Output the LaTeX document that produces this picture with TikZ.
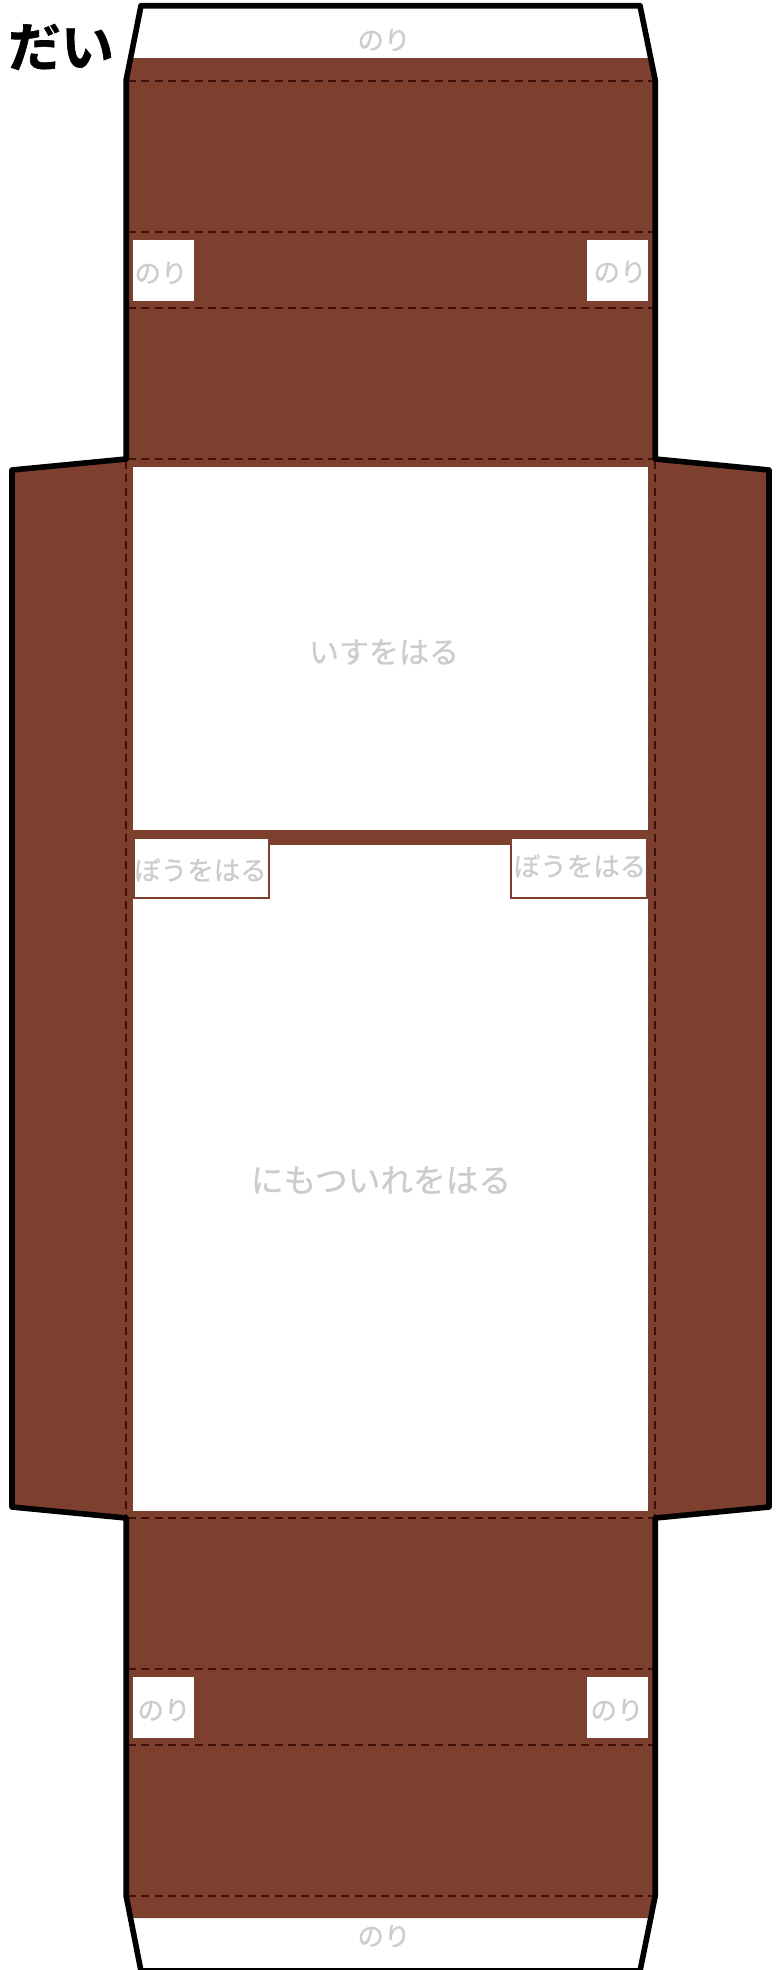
\documentclass[tikz,border=0pt]{standalone}
\usepackage{fontspec}
\newfontfamily\jpfont[FakeBold=0.7]{Noto Sans CJK JP}
\newfontfamily\jpbold[FakeBold=1.2]{Noto Sans CJK JP Bold}
\definecolor{wood}{HTML}{7D3F2E}
\definecolor{fold}{HTML}{40100A}
\definecolor{hint}{HTML}{CCCCCC}
\tikzset{
  woodfill/.style={fill=wood,draw=none},
  blank/.style={fill=white,draw=none},
  foldline/.style={draw=fold,line width=2.9pt,dash pattern=on 8pt off 5.33pt},
  outline/.style={draw=black,line width=5.6pt,line join=round},
  hinttext/.style={text=hint,inner sep=0pt,font=\jpfont\fontsize{#1}{#1}\selectfont},
  framed/.style={fill=white,draw=wood,line width=2.2pt}
}
\begin{document}
\begin{tikzpicture}[x=1pt,y=-1pt]
\useasboundingbox (0,0) rectangle (784,1970);
\clip (0,0) rectangle (784,1970);
\fill[white] (0,0) rectangle (784,1970);
% brown body
\path[woodfill] (130,58) -- (651,58) -- (655,80) -- (655,459) -- (769,470) -- (769,1507) -- (655,1518) -- (655,1896) -- (651,1918) -- (130,1918) -- (126,1896) -- (126,1518) -- (12,1507) -- (12,470) -- (126,459) -- (126,80) -- cycle;
% white windows
\path[blank] (133,467) rectangle (648,830);
\path[blank] (133,845) rectangle (648,1511);
\path[blank] (133,240) rectangle (194,301);
\path[blank] (587,240) rectangle (648,301);
\path[blank] (133,1677) rectangle (194,1738);
\path[blank] (587,1677) rectangle (648,1738);
% brown bar between windows
\path[woodfill] (126,830) rectangle (655,845);
\path[framed] (134,838) rectangle (269,898);
\path[framed] (511,838) rectangle (647,898);
% fold lines
\foreach \yy in {81,232,308,459,1518,1669,1745,1896}
  \draw[foldline] (128,\yy) -- (653,\yy);
\draw[foldline] (126,461) -- (126,1516);
\draw[foldline] (655,461) -- (655,1516);
% outline
\draw[outline] (141,5.7) -- (640,5.7) -- (655.2,80) -- (655.2,459) -- (769,470) -- (769,1507) -- (655.2,1518) -- (655.2,1896) -- (640,1971) -- (141,1971) -- (126.2,1896) -- (126.2,1518) -- (12,1507) -- (12,470) -- (126.2,459) -- (126.2,80) -- cycle;
% labels
\node[text=black,inner sep=0pt,font=\jpbold\fontsize{53}{53}\selectfont] (title) at (61,47) {だい};
\node[hinttext=26.5] (gluetop) at (384,40) {のり};
\node[hinttext=26.5] (gluebot) at (384,1936) {のり};
\node[hinttext=26.5] (glueul) at (161,273) {のり};
\node[hinttext=26.5] (glueur) at (620,272) {のり};
\node[hinttext=26.5] (gluell) at (164,1710) {のり};
\node[hinttext=26.5] (gluelr) at (617,1710) {のり};
\node[hinttext=30] (chair) at (384,652) {いすをはる};
\node[hinttext=32.7] (luggage) at (381,1180) {にもついれをはる};
\node[hinttext=26.5] (poleleft) at (200.5,870) {ぼうをはる};
\node[hinttext=26.5] (poleright) at (580,866) {ぼうをはる};
\end{tikzpicture}
\end{document}
